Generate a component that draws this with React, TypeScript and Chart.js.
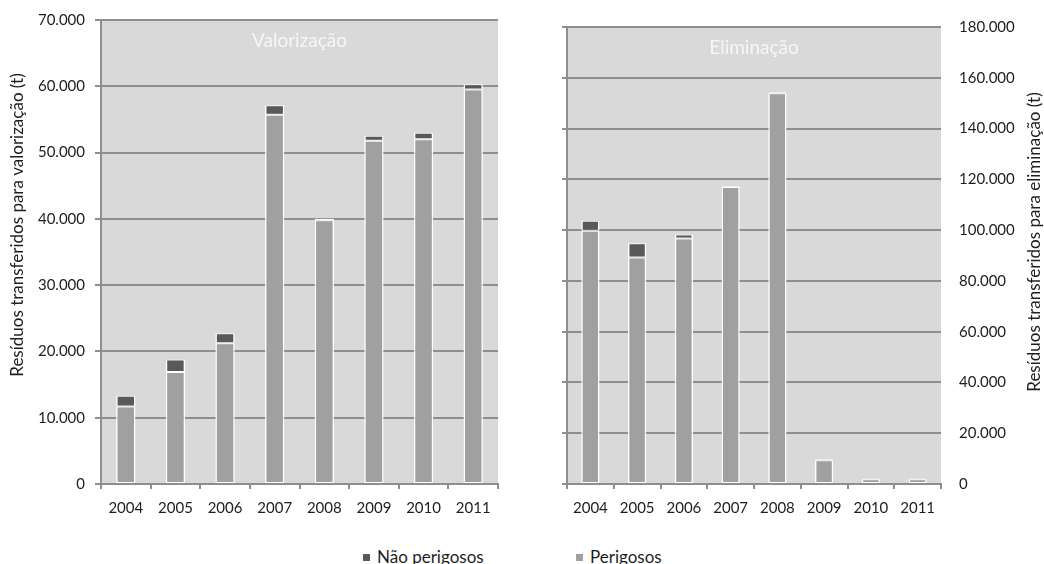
import React, { useEffect, useRef } from 'react';
import { Chart, registerables } from 'chart.js';

Chart.register(...registerables);

// ---- Data ----
const years = ['2004', '2005', '2006', '2007', '2008', '2009', '2010', '2011'];

const valorizacaoPerigosos = [11700, 16900, 21250, 55700, 39800, 51800, 52000, 59500];
const valorizacaoNaoPerigosos = [1600, 1900, 1500, 1450, 200, 750, 1000, 800];

const eliminacaoPerigosos = [99700, 89200, 96700, 117000, 153900, 9400, 1900, 1900];
const eliminacaoNaoPerigosos = [4000, 5600, 1600, 300, 400, 300, 300, 300];

const seriesLabels = ['Perigosos', 'Não perigosos'];
const panelTitles = ['Valorização', 'Eliminação'];
const axisTitles = [
  'Resíduos transferidos para valorização (t)',
  'Resíduos transferidos para eliminação (t)',
];

// ---- Style ----
const FONT = 'Lato, "Open Sans", sans-serif';
const TEXT = '#1e1e1e';
const GRID = '#8e8e8e';
const PLOT_BG = '#d9d9d9';
const COLOR_P = '#a0a0a0';
const COLOR_NP = '#595959';

const fmt = (v: number | string) =>
  String(v).replace(/\B(?=(\d{3})+(?!\d))/g, '.');

function decorPlugin(innerTitle: string, axisTitle: string, tx: number, ty: number) {
  return {
    id: 'decor',
    beforeDraw(chart: any) {
      const { ctx, chartArea: a } = chart;
      ctx.save();
      ctx.fillStyle = PLOT_BG;
      ctx.fillRect(a.left, a.top, a.right - a.left, a.bottom - a.top);
      ctx.restore();
    },
    afterDatasetsDraw(chart: any) {
      const { ctx, chartArea: a } = chart;
      ctx.save();
      ctx.font = `19px ${FONT}`;
      ctx.fillStyle = '#f6f6f6';
      ctx.textAlign = 'center';
      ctx.textBaseline = 'middle';
      ctx.fillText(innerTitle, (a.left + a.right) / 2, a.top + 21);
      ctx.restore();

      ctx.save();
      ctx.translate(tx, ty);
      ctx.rotate(-Math.PI / 2);
      ctx.font = `17px ${FONT}`;
      ctx.fillStyle = TEXT;
      ctx.textAlign = 'center';
      ctx.textBaseline = 'middle';
      ctx.fillText(axisTitle, 0, 0);
      ctx.restore();
    },
  };
}

const barStyle = {
  borderColor: '#ffffff',
  borderWidth: { left: 1.5, right: 1.5, top: 1, bottom: 1 },
  borderSkipped: false,
  barPercentage: 0.39,
  categoryPercentage: 1,
};

function datasets(p: number[], np: number[]) {
  return [
    { label: seriesLabels[0], data: p, backgroundColor: COLOR_P, ...barStyle },
    { label: seriesLabels[1], data: np, backgroundColor: COLOR_NP, ...barStyle },
  ];
}

const xScale = (height: number) => ({
  stacked: true,
  grid: {
    drawOnChartArea: false,
    drawTicks: true,
    tickLength: 5,
    color: GRID,
    lineWidth: 2,
  },
  border: { display: true, color: GRID, width: 2 },
  ticks: { color: TEXT, font: { family: FONT, size: 15 }, padding: 10 },
  afterFit: (s: any) => {
    s.height = height;
  },
});

const W = 1044;
const CH = 522;

export default function App() {
  const leftRef = useRef<HTMLCanvasElement>(null);
  const rightRef = useRef<HTMLCanvasElement>(null);

  useEffect(() => {
    const left = new Chart(leftRef.current!, {
      type: 'bar',
      data: { labels: years, datasets: datasets(valorizacaoPerigosos, valorizacaoNaoPerigosos) as any },
      options: {
        responsive: false,
        animation: false,
        layout: { padding: { left: 0, top: 20, right: 32, bottom: 0 } },
        plugins: { legend: { display: false }, tooltip: { enabled: false } },
        scales: {
          x: xScale(CH - 484) as any,
          y: {
            stacked: true,
            min: 0,
            max: 70000,
            ticks: {
              stepSize: 10000,
              color: TEXT,
              font: { family: FONT, size: 15 },
              padding: 10,
              callback: (v: any) => fmt(v),
            },
            grid: { color: GRID, lineWidth: 2, tickLength: 6, drawTicks: true },
            border: { display: true, color: GRID, width: 2 },
            afterFit: (s: any) => {
              s.width = 101;
            },
          },
        },
      },
      plugins: [decorPlugin(panelTitles[0], axisTitles[0], 18, 225)],
    });

    const right = new Chart(rightRef.current!, {
      type: 'bar',
      data: { labels: years, datasets: datasets(eliminacaoPerigosos, eliminacaoNaoPerigosos) as any },
      options: {
        responsive: false,
        animation: false,
        layout: { padding: { left: 32, top: 22, right: 0, bottom: 0 } },
        plugins: { legend: { display: false }, tooltip: { enabled: false } },
        scales: {
          x: xScale(CH - 484) as any,
          y: {
            stacked: true,
            position: 'left',
            min: 0,
            max: 180000,
            ticks: { stepSize: 20000, display: false },
            grid: { color: GRID, lineWidth: 2, tickLength: 5, drawTicks: true },
            border: { display: true, color: GRID, width: 2 },
            afterFit: (s: any) => {
              s.width = 5;
            },
          },
          y2: {
            position: 'right',
            min: 0,
            max: 180000,
            ticks: {
              stepSize: 20000,
              color: TEXT,
              font: { family: FONT, size: 15 },
              padding: 18,
              callback: (v: any) => fmt(v),
            },
            grid: { display: false, drawTicks: false },
            border: { display: false },
            afterFit: (s: any) => {
              s.width = 514 - 411;
            },
          },
        },
      },
      plugins: [decorPlugin(panelTitles[1], axisTitles[1], 505, 242)],
    });

    return () => {
      left.destroy();
      right.destroy();
    };
  }, []);

  const legendItem = (color: string, label: string, x: number) => (
    <div
      style={{
        position: 'absolute',
        left: x,
        top: 546,
        display: 'flex',
        alignItems: 'center',
        font: `17px ${FONT}`,
        color: TEXT,
        whiteSpace: 'nowrap',
      }}
    >
      <span style={{ display: 'inline-block', width: 7, height: 7, background: color, marginRight: 7, marginTop: 2 }} />
      <span>{label}</span>
    </div>
  );

  return (
    <div
      style={{
        position: 'fixed',
        left: 0,
        top: 0,
        width: W,
        height: 564,
        background: '#ffffff',
        overflow: 'hidden',
      }}
    >
      <canvas ref={leftRef} width={530} height={CH} style={{ position: 'absolute', left: 0, top: 0, width: 530, height: CH }} />
      <canvas ref={rightRef} width={514} height={CH} style={{ position: 'absolute', left: 530, top: 0, width: 514, height: CH }} />
      {legendItem(COLOR_NP, seriesLabels[1], 363)}
      {legendItem(COLOR_P, seriesLabels[0], 576)}
    </div>
  );
}
